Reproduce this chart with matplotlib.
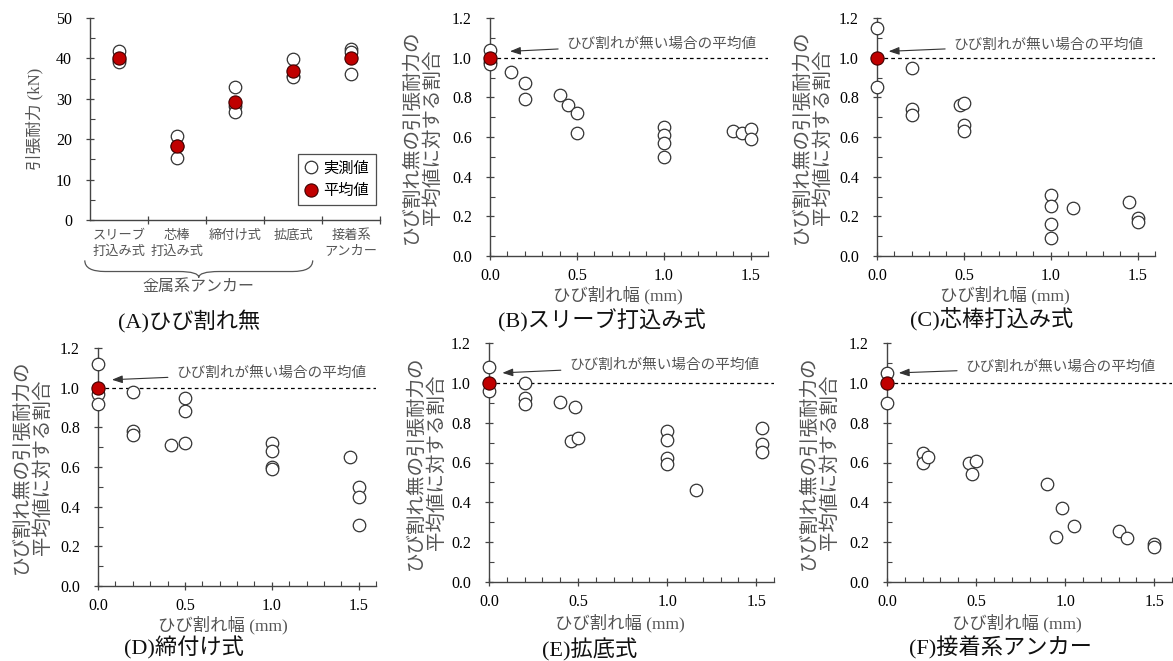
import numpy as np
import matplotlib
matplotlib.use("Agg")
import matplotlib.pyplot as plt
from matplotlib.lines import Line2D
from matplotlib.path import Path
from matplotlib.patches import PathPatch
from matplotlib.ticker import MultipleLocator, FormatStrFormatter
import matplotlib.transforms as mtransforms

plt.rcParams['font.family'] = ['Liberation Serif', 'Noto Sans CJK JP']

# ---- data ----
# (A) pull-out strength without cracks (kN)
cats_A = ["スリーブ\n打込み式", "芯棒\n打込み式", "締付け式", "拡底式", "接着系\nアンカー"]
measured_A = [[41.8, 39.5, 39.0], [20.8, 18.4, 15.3], [32.8, 28.3, 26.8],
              [39.9, 35.6, 35.3], [42.3, 41.6, 36.1]]
mean_A = [40.1, 18.2, 29.3, 36.9, 40.0]

# (B)-(F) crack width (mm) vs ratio to uncracked mean
x_B = [0, 0, 0, 0.12, 0.2, 0.2, 0.4, 0.45, 0.5, 0.5, 1, 1, 1, 1, 1.4, 1.45, 1.5, 1.5]
y_B = [1.04, 0.98, 0.97, 0.93, 0.87, 0.79, 0.81, 0.76, 0.72, 0.62,
       0.65, 0.61, 0.57, 0.50, 0.63, 0.62, 0.64, 0.59]

x_C = [0, 0, 0.2, 0.2, 0.2, 0.48, 0.5, 0.5, 0.5, 1, 1, 1, 1, 1.13, 1.45, 1.5, 1.5]
y_C = [1.15, 0.85, 0.95, 0.74, 0.71, 0.76, 0.77, 0.66, 0.63,
       0.31, 0.25, 0.16, 0.09, 0.24, 0.27, 0.19, 0.17]

x_D = [0, 0, 0, 0.2, 0.2, 0.2, 0.42, 0.5, 0.5, 0.5, 1, 1, 1, 1, 1.45, 1.5, 1.5, 1.5]
y_D = [1.12, 0.97, 0.92, 0.98, 0.78, 0.76, 0.71, 0.95, 0.88, 0.72,
       0.72, 0.68, 0.60, 0.59, 0.65, 0.50, 0.45, 0.31]

x_E = [0, 0, 0.2, 0.2, 0.2, 0.4, 0.46, 0.48, 0.5, 1, 1, 1, 1, 1.16, 1.53, 1.53, 1.53]
y_E = [1.08, 0.96, 1.0, 0.925, 0.895, 0.905, 0.71, 0.88, 0.725,
       0.76, 0.715, 0.625, 0.59, 0.46, 0.775, 0.695, 0.655]

x_F = [0, 0, 0.2, 0.2, 0.23, 0.46, 0.5, 0.48, 0.9, 0.98, 0.95, 1.05, 1.3, 1.35, 1.5, 1.5]
y_F = [1.05, 0.90, 0.65, 0.60, 0.63, 0.60, 0.61, 0.54, 0.49, 0.37,
       0.225, 0.28, 0.255, 0.22, 0.19, 0.178]

mean_xy = (0.0, 1.0)

titles = ["(A)ひび割れ無", "(B)スリーブ打込み式", "(C)芯棒打込み式",
          "(D)締付け式", "(E)拡底式", "(F)接着系アンカー"]

# ---- styles ----
spine_c = '#444444'
txt_gray = '#555555'
open_kw = dict(marker='o', ms=9, mfc='white', mec='#333333', mew=0.9, ls='none', zorder=3, clip_on=False)
mean_kw = dict(marker='o', ms=9.5, mfc='#c00000', mec='#400000', mew=0.8, ls='none', zorder=4, clip_on=False)

fig = plt.figure(figsize=(11.73, 6.61), dpi=100)
W, H = 1173, 661


def px_axes(l, t, r, b):
    return fig.add_axes([l / W, 1 - b / H, (r - l) / W, (b - t) / H])


def style(ax):
    for s in ['top', 'right']:
        ax.spines[s].set_visible(False)
    for s in ['left', 'bottom']:
        ax.spines[s].set_color(spine_c)
        ax.spines[s].set_linewidth(1.0)
    ax.tick_params(which='major', direction='inout', length=6, width=0.9, color=spine_c,
                   labelsize=11.5, pad=9)
    ax.tick_params(which='minor', direction='in', length=3.5, width=0.8, color=spine_c)
    ax.tick_params(axis='y', which='minor', left=True)


# ---- panel A ----
axA = px_axes(90, 18, 380, 220)
style(axA)
pos = np.arange(len(cats_A))
for i, vals in enumerate(measured_A):
    axA.plot([pos[i]] * len(vals), vals, **open_kw)
axA.plot(pos, mean_A, **mean_kw)
axA.set_xlim(-0.5, len(cats_A) - 0.5)
axA.set_ylim(0, 50)
axA.yaxis.set_major_locator(MultipleLocator(10))
axA.yaxis.set_minor_locator(MultipleLocator(5))
axA.set_xticks(pos + 0.5)
axA.set_xticklabels([])
axA.set_xticks(pos, minor=True)
axA.set_xticklabels(cats_A, minor=True, fontsize=9.5, color=txt_gray, linespacing=1.35)
axA.tick_params(axis='x', which='minor', length=0, pad=7)
axA.tick_params(axis='y', pad=10)
axA.set_ylabel("引張耐力 (kN)", fontsize=12, color=txt_gray)
axA.yaxis.set_label_coords(-0.162, 0.5)

leg_handles = [Line2D([], [], **{k: v for k, v in open_kw.items() if k not in ('zorder', 'clip_on')}),
               Line2D([], [], **{k: v for k, v in mean_kw.items() if k not in ('zorder', 'clip_on')})]
leg = axA.legend(leg_handles, ["実測値", "平均値"], loc='lower right',
                 bbox_to_anchor=(0.985, 0.075), fontsize=11, frameon=True, fancybox=False,
                 edgecolor='#222222', handlelength=0.8, handletextpad=0.4,
                 labelspacing=0.55, borderpad=0.45, borderaxespad=0)
leg.get_frame().set_linewidth(0.9)

# curly brace under the metal anchors
trA = mtransforms.blended_transform_factory(axA.transData, axA.transAxes)
x0, x1 = -0.59, 3.34
xm = (x0 + x1) / 2
ytop, yband, ytip = -0.20, -0.255, -0.285
d = 0.35
verts = [(x0, ytop), (x0, yband), (x0 + d, yband), (xm - d, yband), (xm, yband), (xm, ytip),
         (xm, yband), (xm + d, yband), (x1 - d, yband), (x1, yband), (x1, ytop)]
codes = [Path.MOVETO, Path.CURVE3, Path.CURVE3, Path.LINETO, Path.CURVE3, Path.CURVE3,
         Path.CURVE3, Path.CURVE3, Path.LINETO, Path.CURVE3, Path.CURVE3]
axA.add_patch(PathPatch(Path(verts, codes), transform=trA, fill=False, ec='#555555',
                        lw=0.9, clip_on=False))
axA.text(xm, -0.33, "金属系アンカー", transform=trA, ha='center', va='center',
         fontsize=11.5, color=txt_gray)

# ---- panels B-F ----
panels = [
    ((490, 18, 768, 256), x_B, y_B, (0.115, 1.032), (0.44, 1.069), (-0.173, 0.5), (0.46, -0.125)),
    ((877, 18, 1155, 256), x_C, y_C, (0.067, 1.032), (0.44, 1.066), (-0.162, 0.5), (0.46, -0.125)),
    ((98, 348, 376, 586), x_D, y_D, (0.08, 1.04), (0.45, 1.074), (-0.165, 0.5), (0.45, -0.125)),
    ((489, 343, 774, 582), x_E, y_E, (0.075, 1.05), (0.45, 1.087), (-0.151, 0.5), (0.46, -0.135)),
    ((887, 343, 1172, 582), x_F, y_F, (0.066, 1.05), (0.44, 1.08), (-0.168, 0.5), (0.456, -0.135)),
]
for rect, xs, ys, tip, txt, ylc, xlc in panels:
    ax = px_axes(*rect)
    style(ax)
    ax.axhline(1.0, color='black', ls=(0, (3, 2.5)), lw=0.9, zorder=1)
    ax.plot(xs, ys, **open_kw)
    ax.plot([mean_xy[0]], [mean_xy[1]], **mean_kw)
    ax.set_xlim(0, 1.6)
    ax.set_ylim(0, 1.2)
    ax.xaxis.set_major_locator(MultipleLocator(0.5))
    ax.xaxis.set_minor_locator(MultipleLocator(0.1))
    ax.yaxis.set_major_locator(MultipleLocator(0.2))
    ax.yaxis.set_minor_locator(MultipleLocator(0.1))
    ax.xaxis.set_major_formatter(FormatStrFormatter('%.1f'))
    ax.yaxis.set_major_formatter(FormatStrFormatter('%.1f'))
    ax.tick_params(axis='y', pad=10)
    ax.tick_params(axis='x', pad=6)
    ax.set_ylabel("ひび割れ無の引張耐力の\n平均値に対する割合", fontsize=14,
                  color=txt_gray, linespacing=1.2)
    ax.yaxis.set_label_coords(*ylc)
    ax.set_xlabel("ひび割れ幅 (mm)", fontsize=12.5, color=txt_gray)
    ax.xaxis.set_label_coords(*xlc)
    ax.annotate("ひび割れが無い場合の平均値", xy=tip, xytext=txt, ha='left', va='center',
                fontsize=10.5, color=txt_gray,
                arrowprops=dict(arrowstyle='-|>,head_length=0.6,head_width=0.22',
                                color='#333333', lw=0.8, shrinkA=4, shrinkB=0))

# ---- captions ----
cap_pos = [(189, 322), (602, 321), (992, 320), (184, 648), (590, 650), (1000, 648)]
for t, (cx, cy) in zip(titles, cap_pos):
    fig.text(cx / W, 1 - cy / H, t, ha='center', va='center', fontsize=16, color='#111111')

fig.savefig("out.png", dpi=100)
